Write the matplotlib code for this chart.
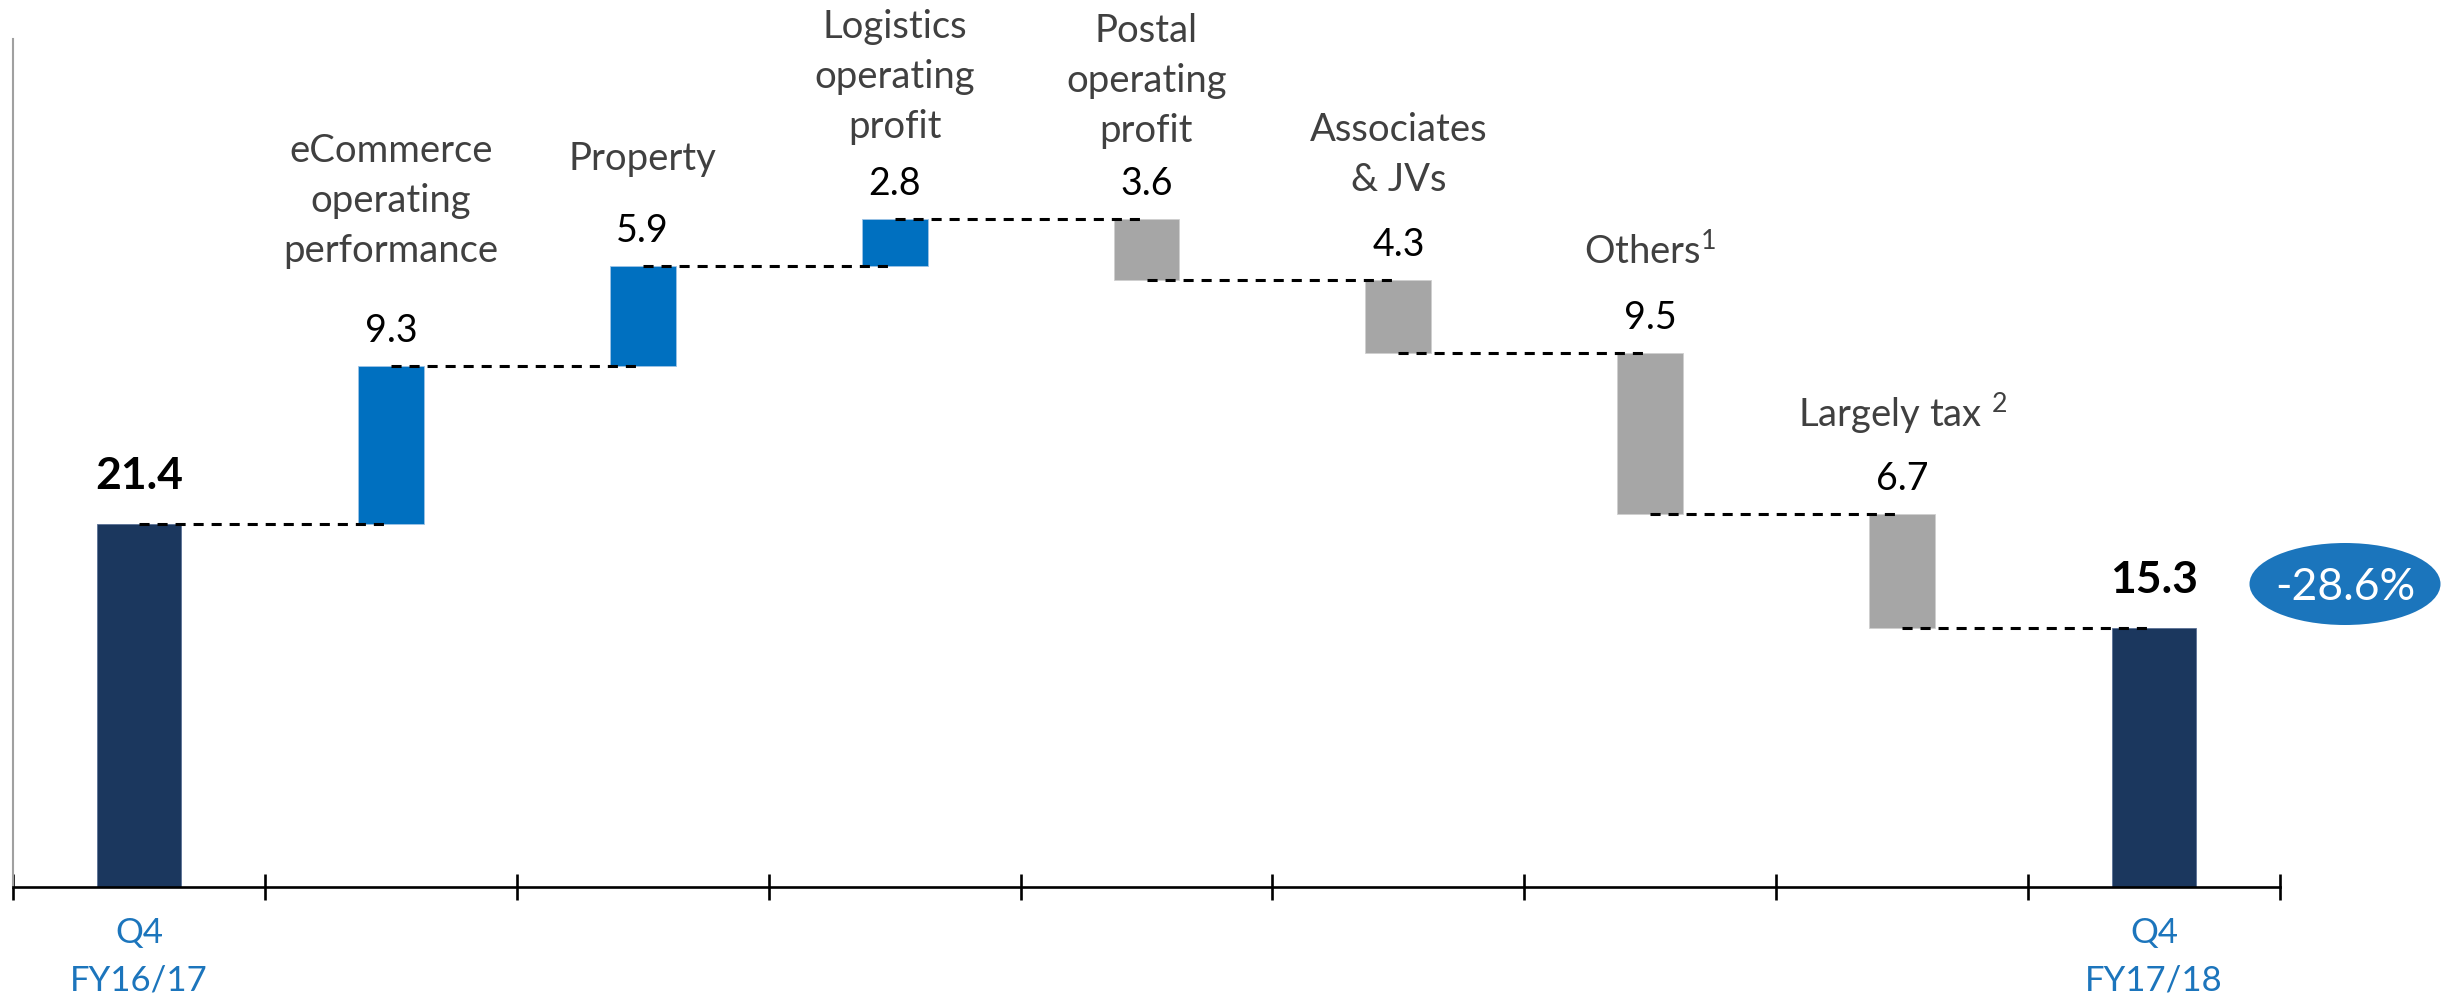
import matplotlib
matplotlib.use("Agg")
import matplotlib.pyplot as plt
from matplotlib.patches import Ellipse

plt.rcParams['font.family'] = ['Lato', 'DejaVu Sans']
plt.rcParams['mathtext.fontset'] = 'custom'
plt.rcParams['mathtext.rm'] = 'Lato'
plt.rcParams['mathtext.it'] = 'Lato:italic'
plt.rcParams['mathtext.bf'] = 'Lato:bold'

# ---- data ----
start_label = "Q4\nFY16/17"
end_label = "Q4\nFY17/18"
start_value = 21.4
end_value = 15.3
step_labels = ["eCommerce\noperating\nperformance", "Property",
               "Logistics\noperating\nprofit", "Postal\noperating\nprofit",
               "Associates\n& JVs", r"Others$^{\mathregular{1}}$",
               r"Largely tax $^{\mathregular{2}}$"]
step_values = [9.3, 5.9, 2.8, -3.6, -4.3, -9.5, -6.7]
change_text = "-28.6%"

# ---- layout / style ----
W, H, DPI = 2443, 998, 100
NAVY = "#1B375E"
BLUE = "#0070C0"
GRAY = "#A6A6A6"
TXT = "#404040"
TICKBLUE = "#1C75BC"
gap_cat = [80, 72, 57, 53, 65, 65, 63]   # px between label last line and value baseline
line_px = 50
VAL_FS = 27
CAT_FS = 27.5
BOLD_FS = 32
DASH = (0, (3.3, 2.6))
DASH_LW = 2.2

fig = plt.figure(figsize=(W / DPI, H / DPI), dpi=DPI)
ax = fig.add_axes([13 / W, 111 / H, (2280 - 13) / W, (887 - 39) / H])
ax.set_xlim(0, 9)
ax.set_ylim(0, 50)

n = len(step_values)
xs = [i + 0.5 for i in range(n + 2)]

# start bar
ax.bar(xs[0], start_value, width=0.33, color=NAVY, edgecolor="#5A7196", linewidth=0.6, zorder=2)
ax.annotate(f"{start_value:.1f}", xy=(xs[0], start_value), xytext=(0, 35),
            textcoords="offset pixels", ha="center", va="baseline",
            fontsize=BOLD_FS, fontweight="bold", color="black")

level = start_value
for i, d in enumerate(step_values):
    x = xs[i + 1]
    new = level + d
    bottom = min(level, new)
    top = max(level, new)
    col = BLUE if d > 0 else GRAY
    ec = "#9DC3E6" if d > 0 else "#CFCFCF"
    ax.bar(x, abs(d), bottom=bottom, width=0.262, color=col, edgecolor=ec, linewidth=0.6, zorder=2)
    # connector from previous bar
    ax.plot([xs[i], x], [level, level], color="black", lw=DASH_LW,
            linestyle=DASH, zorder=3)
    ax.annotate(f"{abs(d):.1f}", xy=(x, top), xytext=(0, 24),
                textcoords="offset pixels", ha="center", va="baseline",
                fontsize=VAL_FS, color="black")
    lines = step_labels[i].split("\n")
    for k, ln in enumerate(reversed(lines)):
        ax.annotate(ln, xy=(x, top), xytext=(0, 24 + gap_cat[i] + k * line_px),
                    textcoords="offset pixels", ha="center", va="baseline",
                    fontsize=CAT_FS, color=TXT)
    level = new

# end bar
ax.bar(xs[-1], end_value, width=0.33, color=NAVY, edgecolor="#5A7196", linewidth=0.6, zorder=2)
ax.plot([xs[-2], xs[-1]], [level, level], color="black", lw=DASH_LW,
        linestyle=DASH, zorder=3)
ax.annotate(f"{end_value:.1f}", xy=(xs[-1], end_value), xytext=(0, 35),
            textcoords="offset pixels", ha="center", va="baseline",
            fontsize=BOLD_FS, fontweight="bold", color="black")

# category (x) labels for start / end
for x, lab in [(xs[0], start_label), (xs[-1], end_label)]:
    for k, ln in enumerate(lab.split("\n")):
        ax.annotate(ln, xy=(x, 0), xytext=(0, -56 - k * 48),
                    textcoords="offset pixels", ha="center", va="baseline",
                    fontsize=25, color=TICKBLUE, annotation_clip=False)

# axes styling
ax.set_xticks(range(10))
ax.set_xticklabels([])
ax.tick_params(axis="x", direction="inout", length=19.4, width=1.9, color="black")
ax.set_yticks([])
for s in ["top", "right"]:
    ax.spines[s].set_visible(False)
ax.spines["bottom"].set_color("black")
ax.spines["bottom"].set_linewidth(1.9)
ax.spines["left"].set_color("#A0A0A0")
ax.spines["left"].set_linewidth(1.5)

# change bubble
ell = Ellipse((23.45, 4.14), 1.91, 0.82, transform=fig.dpi_scale_trans,
              facecolor="#1B75BC", edgecolor="none")
fig.add_artist(ell)
fig.text(23.45, 4.14, change_text, transform=fig.dpi_scale_trans, ha="center",
         va="center_baseline", fontsize=32, color="white")

fig.savefig("out.png", dpi=DPI)
